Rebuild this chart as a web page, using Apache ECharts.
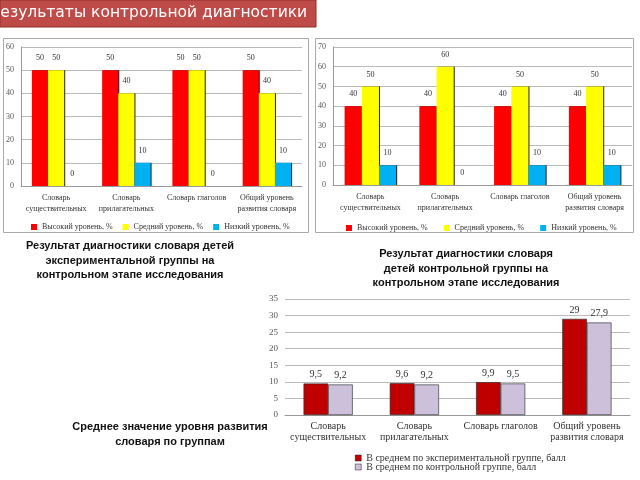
<!DOCTYPE html>
<html><head><meta charset="utf-8">
<script src="https://cdn.jsdelivr.net/npm/echarts@6/dist/echarts.min.js"></script>
<style>html,body{margin:0;padding:0;background:#fff}#c{width:640px;height:480px}</style>
</head><body><div id="c"></div>
<script>
var categories = ["Словарь\nсуществительных", "Словарь\nприлагательных", "Словарь глаголов", "Общий уровень\nразвития словаря"];
var levelNames = ["Высокий уровень, %", "Средний уровень, %", "Низкий уровень, %"];
var expHigh = [50, 50, 50, 50];
var expMid = [50, 40, 50, 40];
var expLow = [0, 10, 0, 10];
var ctrlHigh = [40, 40, 40, 40];
var ctrlMid = [50, 60, 50, 50];
var ctrlLow = [10, 0, 10, 10];
var avgNames = ["В среднем по экспериментальной группе, балл", "В среднем по контрольной группе, балл"];
var avgExp = [9.5, 9.6, 9.9, 29];
var avgCtrl = [9.2, 9.2, 9.5, 27.9];
var bannerText = "Результаты контрольной диагностики";
var caption1 = "Результат диагностики словаря детей\nэкспериментальной группы на\nконтрольном этапе исследования";
var caption2 = "Результат диагностики словаря\nдетей контрольной группы на\nконтрольном этапе исследования";
var caption3 = "Среднее значение уровня развития\nсловаря по группам";

var levelColors = ["#FF0000", "#FFFF00", "#00B0F0"];
var avgColors = ["#C00000", "#CCC0DA"];
var serif = "Liberation Serif";
var small = {fontFamily: serif, fontSize: 8, color: "#333"};
var mid = {fontFamily: serif, fontSize: 10, color: "#333"};

function levelSeries(arrs, xi) {
  return arrs.map(function (d, i) {
    return {
      type: "bar", name: levelNames[i], xAxisIndex: xi, yAxisIndex: xi, data: d,
      barGap: "0%", barCategoryGap: "31%",
      itemStyle: {color: levelColors[i], shadowColor: "#222", shadowOffsetX: 1, shadowOffsetY: 0, shadowBlur: 0},
      label: {show: true, position: "top", distance: 8, fontFamily: serif, fontSize: 8, color: "#333"}
    };
  });
}
function xAx(gi, fs, lh) {
  return {type: "category", gridIndex: gi, data: categories,
    axisLine: {lineStyle: {color: "#999"}}, axisTick: {show: false},
    axisLabel: {fontFamily: serif, fontSize: fs, color: "#333", lineHeight: lh, margin: 6, interval: 0}};
}
function yAx(gi, max, interval, showLine, fs) {
  return {type: "value", gridIndex: gi, min: 0, max: max, interval: interval,
    axisLine: {show: showLine, lineStyle: {color: "#999"}}, axisTick: {show: false},
    axisLabel: {fontFamily: serif, fontSize: fs, color: "#555", margin: 7},
    splitLine: {lineStyle: {color: "#bbb", width: 1}}};
}

var series = [].concat(
  levelSeries([expHigh, expMid, expLow], 0),
  levelSeries([ctrlHigh, ctrlMid, ctrlLow], 1),
  avgNames.map(function (n, i) {
    return {type: "bar", name: n, xAxisIndex: 2, yAxisIndex: 2, data: i === 0 ? avgExp : avgCtrl,
      barGap: "0%", barCategoryGap: "43%",
      itemStyle: {color: avgColors[i], borderColor: "#222", borderWidth: 0.6},
      label: {show: true, position: "top", distance: 4, fontFamily: serif, fontSize: 10, color: "#333",
        formatter: function (p) { return String(p.value).replace(".", ","); }}};
  })
);

var chart = echarts.init(document.getElementById("c"), null, {renderer: "canvas"});
chart.setOption({
  animation: false,
  grid: [
    {left: 21, right: 338, top: 47, bottom: 294},
    {left: 333, right: 8, top: 47, bottom: 295},
    {left: 285, right: 10, top: 299, bottom: 65}
  ],
  xAxis: [xAx(0, 8, 11), xAx(1, 8, 11), xAx(2, 10, 11)],
  yAxis: [yAx(0, 60, 10, true, 8), yAx(1, 70, 10, true, 8), yAx(2, 35, 5, false, 9)],
  legend: [
    {data: levelNames, left: 26, top: 218, itemWidth: 6, itemHeight: 6, itemGap: 10, icon: "rect",
      itemStyle: {borderWidth: 0, shadowBlur: 0, shadowOffsetX: 0},
      textStyle: small, selectedMode: false},
    {data: levelNames, left: 341, top: 219, itemWidth: 6, itemHeight: 6, itemGap: 16, icon: "rect",
      itemStyle: {borderWidth: 0, shadowBlur: 0, shadowOffsetX: 0},
      textStyle: small, selectedMode: false},
    {data: [avgNames[0]], left: 350, top: 448, itemWidth: 6, itemHeight: 6, icon: "rect",
      itemStyle: {borderWidth: 0.5}, textStyle: mid, selectedMode: false},
    {data: [avgNames[1]], left: 350, top: 457, itemWidth: 6, itemHeight: 6, icon: "rect",
      itemStyle: {borderWidth: 0.5}, textStyle: mid, selectedMode: false}
  ],
  graphic: [
    {type: "rect", shape: {x: 0, y: 0, width: 316, height: 27}, style: {fill: "#BE4B48", stroke: "#8f2f2c", lineWidth: 1}, z: 10},
    {type: "text", left: -9, top: 5, style: {text: bannerText, fill: "#fff", font: "15.5px 'DejaVu Sans'"}, z: 11},
    {type: "rect", shape: {x: 3.5, y: 38.5, width: 305, height: 194}, style: {fill: null, stroke: "#aaa", lineWidth: 1}, z: 0},
    {type: "rect", shape: {x: 315.5, y: 38.5, width: 318, height: 194}, style: {fill: null, stroke: "#aaa", lineWidth: 1}, z: 0},
    {type: "text", x: 130, y: 239, style: {text: caption1, fill: "#111", font: "bold 11px 'Liberation Sans'", align: "center", lineHeight: 14.5}, z: 11},
    {type: "text", x: 466, y: 247, style: {text: caption2, fill: "#111", font: "bold 11px 'Liberation Sans'", align: "center", lineHeight: 14.5}, z: 11},
    {type: "text", x: 170, y: 419, style: {text: caption3, fill: "#111", font: "bold 11px 'Liberation Sans'", align: "center", lineHeight: 15}, z: 11}
  ],
  series: series
});
</script></body></html>
